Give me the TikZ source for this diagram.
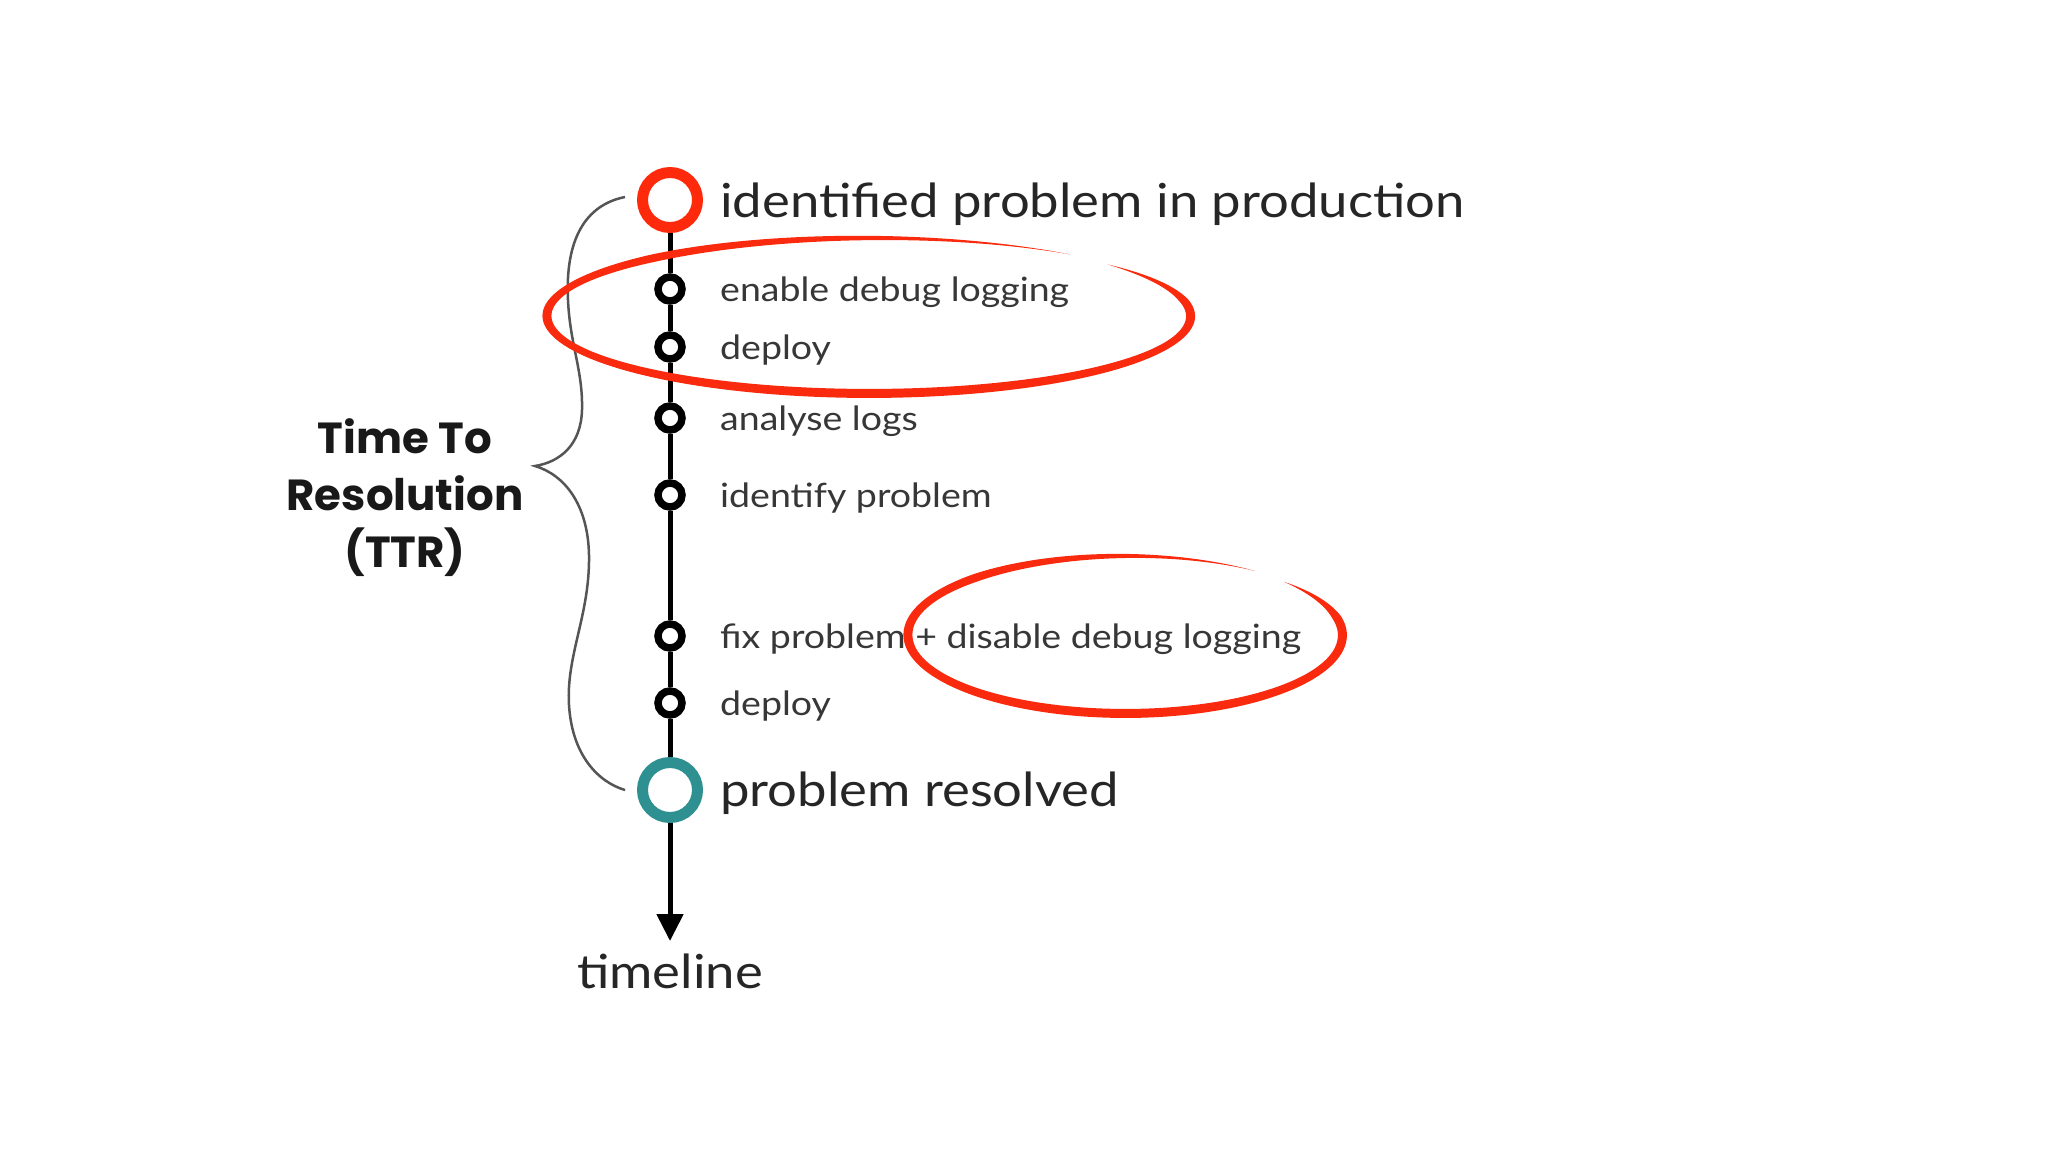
\documentclass[tikz,border=0pt]{standalone}
\usepackage{fontspec}
\setmainfont{Lato}[FakeStretch=1.12]
\newfontfamily\ttrfont{Poppins}
\usetikzlibrary{arrows.meta}
\definecolor{hlred}{RGB}{250,42,14}
\definecolor{ringred}{RGB}{255,42,12}
\definecolor{ringteal}{RGB}{46,144,144}
\definecolor{txt}{RGB}{38,38,38}
\definecolor{txtsmall}{RGB}{55,55,55}
\definecolor{bracegray}{RGB}{85,85,85}
\tikzset{
  bigring/.style={circle, draw, line width=11pt, minimum size=55pt, inner sep=0pt, fill=white},
  smallring/.style={circle, draw=black, line width=7.5pt, minimum size=24pt, inner sep=0pt, fill=white},
  tline/.style={line width=5pt, draw=black},
  bigtxt/.style={font=\fontsize{47}{56}\selectfont, text=txt, anchor=mid west, inner sep=0pt},
  smalltxt/.style={font=\fontsize{33.5}{40}\selectfont, text=txtsmall, anchor=mid west, inner sep=0pt},
  ttrtxt/.style={font=\ttrfont\bfseries\fontsize{43.5}{57}\selectfont, text=black!90, align=center, inner sep=0pt},
  bracestyle/.style={draw=bracegray, line width=2.5pt},
}
% cx, cy, rx, ry, start angle, end angle, max width
\newcommand{\hlellipse}[7]{%
  \fill[hlred] plot[domain=#5:#6, samples=320, variable=\t]
    ({#1+(#3*(1+0.015*((#6)-\t)/((#6)-(#5)))+0.5*#7*min(1,(\t-(#5))/80,((#6)-\t)/30))*cos(\t)},
     {#2-(#4*(1+0.015*((#6)-\t)/((#6)-(#5)))+0.5*#7*min(1,(\t-(#5))/80,((#6)-\t)/30))*sin(\t)})
  -- plot[domain=#5:#6, samples=320, variable=\t]
    ({#1+(#3*(1+0.015*(\t-(#5))/((#6)-(#5)))-0.5*#7*min(1,((#6)-\t)/80,(\t-(#5))/30))*cos((#5)+(#6)-(\t))},
     {#2-(#4*(1+0.015*(\t-(#5))/((#6)-(#5)))-0.5*#7*min(1,((#6)-\t)/80,(\t-(#5))/30))*sin((#5)+(#6)-(\t))})
  -- cycle;}
\begin{document}
\begin{tikzpicture}[x=1pt, y=-1pt]
\useasboundingbox (0,0) rectangle (2048,1152);
\fill[white] (0,0) rectangle (2048,1152);

% timeline nodes
\node[bigring, draw=ringred] (n0) at (670,200) {};
\node[smallring] (n1) at (670,289) {};
\node[smallring] (n2) at (670,347) {};
\node[smallring] (n3) at (670,418) {};
\node[smallring] (n4) at (670,495) {};
\node[smallring] (n5) at (670,636) {};
\node[smallring] (n6) at (670,703) {};
\node[bigring, draw=ringteal] (n7) at (670,790) {};
\coordinate (tip) at (670,941);

\draw[tline] (n0) -- (n1);
\draw[tline] (n1) -- (n2);
\draw[tline] (n2) -- (n3);
\draw[tline] (n3) -- (n4);
\draw[tline] (n4) -- (n5);
\draw[tline] (n5) -- (n6);
\draw[tline] (n6) -- (n7);
\draw[tline, -{Triangle[length=27pt,width=26pt]}] (n7) -- (tip);

% labels
\node[bigtxt] (l0) at (720,215) {identified problem in production};
\node[smalltxt] (l1) at (720,299) {enable debug logging};
\node[smalltxt] (l2) at (720,357) {deploy};
\node[smalltxt] (l3) at (720,428) {analyse logs};
\node[smalltxt] (l4) at (720,505) {identify problem};
\node[smalltxt] (l5) at (720,646) {fix problem + disable debug logging};
\node[smalltxt] (l6) at (720,713) {deploy};
\node[bigtxt] (l7) at (720,804) {problem resolved};
\node[font=\fontsize{47}{56}\selectfont, text=txt, anchor=base, inner sep=0pt] (tl) at (670,988) {timeline};

% brace
\coordinate (btop) at (625,197);
\coordinate (btip) at (535,466);
\coordinate (bbot) at (625,790);
\draw[bracestyle] (btop) .. controls (585,205) and (565,240) .. (568,300)
  .. controls (570,345) and (583,370) .. (582,410)
  .. controls (581,445) and (560,462) .. (btip)
  .. controls (565,475) and (588,505) .. (589,555)
  .. controls (590,615) and (566,655) .. (569,705)
  .. controls (572,755) and (598,782) .. (bbot);
\node[ttrtxt] (ttr) at (405,498) {Time To\\Resolution\\(TTR)};

% highlight ellipses
\hlellipse{870}{316}{320}{77}{-308}{42}{9}
\hlellipse{1126}{635}{216}{78}{-306}{43}{9}
\end{tikzpicture}
\end{document}
